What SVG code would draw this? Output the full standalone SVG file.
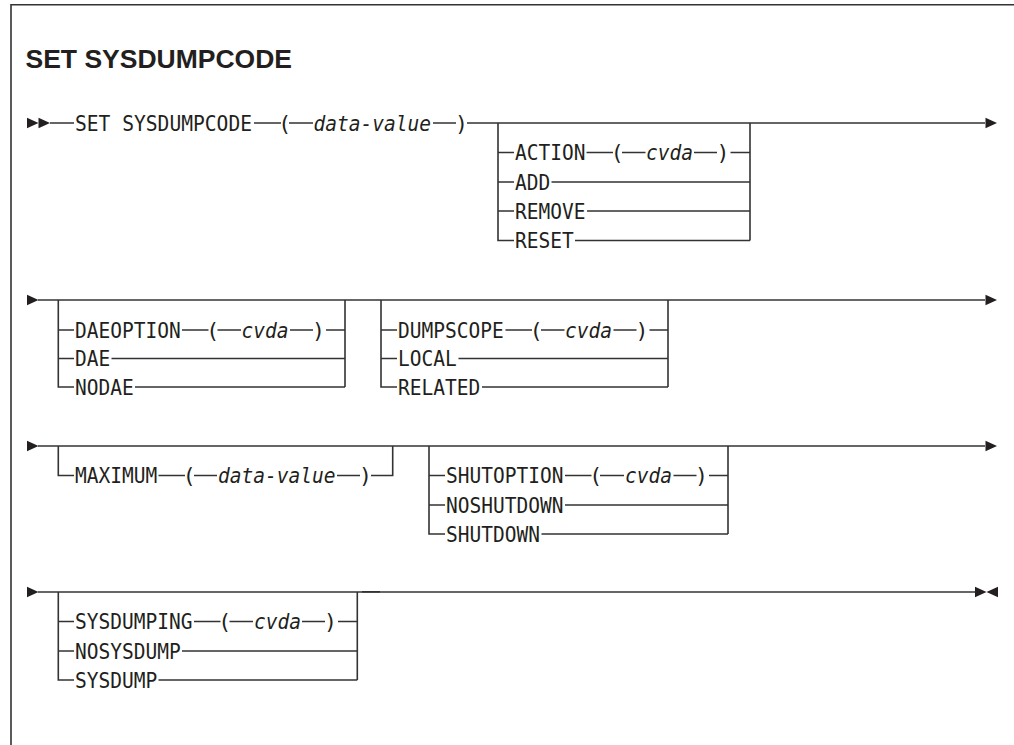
<svg xmlns="http://www.w3.org/2000/svg" xmlns:xlink="http://www.w3.org/1999/xlink" width="1014" height="745" viewBox="0 0 1014 745">
<style>
.t{font-family:"DejaVu Sans Mono","Liberation Mono",monospace;font-size:21.5px;fill:#231f20}
.i{font-style:italic}
.p{text-anchor:middle}
.ln{fill:none;stroke:#333;stroke-width:1.6}
.title{font-family:"Liberation Sans",Arial,sans-serif;font-weight:bold;font-size:26.5px;fill:#231f20}
.tri{fill:#231f20}
</style>
<defs>
<path id="tr" d="M0,-5.2 L11.5,0 L0,5.2 Z"/>
<path id="tl" d="M11.5,-5.2 L0,0 L11.5,5.2 Z"/>
</defs>
<rect width="1014" height="745" fill="#fff"/>
<g id="frame"><path class="ln" d="M11,745 V4.7 H1014" stroke="#555"/></g>
<g id="title"><text class="title" x="25.5" y="68.3">SET SYSDUMPCODE</text></g>

<g id="connectors">
<path class="ln" d="M50,123 H74 M254,123 H281 M289,123 H313 M433,123 H456 M467,123 H985"/>
<path class="ln" d="M498,123 V240.5 H514 M498,152.5 H514 M498,182 H514 M498,211 H514 M586.5,152.5 H613 M622,152.5 H645.5 M694,152.5 H717 M730.5,152.5 H750 M551.5,182 H750 M587,211 H750 M575,240.5 H750 M750,123 V240.5"/>
<path class="ln" d="M38,300 H985"/>
<path class="ln" d="M58.3,300 V387 H74 M58.3,330 H74 M58.3,358.5 H74 M182,330 H208.5 M217.5,330 H241 M290,330 H313 M326,330 H345 M111.5,358.5 H345 M135,387 H345 M345,300 V387"/>
<path class="ln" d="M381,300 V387 H397 M381,330 H397 M381,358.5 H397 M505.5,330 H532 M541,330 H564.5 M613.5,330 H636.5 M649.5,330 H668 M458.5,358.5 H668 M482,387 H668 M668,300 V387"/>
<path class="ln" d="M38,446 H985"/>
<path class="ln" d="M58.3,446 V475.5 H74 M158.5,475.5 H185 M194,475.5 H217 M337,475.5 H360 M371,475.5 H392.7 V446"/>
<path class="ln" d="M429,446 V534 H445 M429,475.5 H445 M429,505 H445 M565,475.5 H591.5 M600,475.5 H624 M673.5,475.5 H696.5 M709,475.5 H728 M565,505 H728 M541.5,534 H728 M728,446 V534"/>
<path class="ln" d="M38,592 H975"/>
<path class="ln" d="M58.3,592 V680 H74 M58.3,621.5 H74 M58.3,651 H74 M194,621.5 H220.5 M229.5,621.5 H253 M302,621.5 H325 M338,621.5 H357.3 M182,651 H357.3 M158.5,680 H357.3 M357.3,592 V680"/>
<path class="ln" d="M362,591.8 H380" stroke-width="2.6"/>
</g>

<g id="terminators" class="tri">
<use xlink:href="#tr" href="#tr" x="27" y="123"/>
<use xlink:href="#tr" href="#tr" x="38.5" y="123"/>
<use xlink:href="#tr" href="#tr" x="985.5" y="123"/>
<use xlink:href="#tr" href="#tr" x="27" y="300"/>
<use xlink:href="#tr" href="#tr" x="985.5" y="300"/>
<use xlink:href="#tr" href="#tr" x="27" y="446"/>
<use xlink:href="#tr" href="#tr" x="985.5" y="446"/>
<use xlink:href="#tr" href="#tr" x="27" y="592"/>
<use xlink:href="#tr" href="#tr" x="975" y="592"/>
<use xlink:href="#tl" href="#tl" x="986.5" y="592"/>
</g>

<g id="n-set">
<text class="t" x="75" y="130.8" textLength="177" lengthAdjust="spacingAndGlyphs">SET SYSDUMPCODE</text>
<text class="t p" x="284.7" y="130.8">(</text>
<text class="t i" x="313.5" y="130.8" textLength="117.5" lengthAdjust="spacingAndGlyphs">data-value</text>
<text class="t p" x="461.5" y="130.8">)</text>
</g>

<g id="n-action">
<text class="t" x="515" y="160.3" textLength="70.5" lengthAdjust="spacingAndGlyphs">ACTION</text>
<text class="t p" x="617.2" y="160.3">(</text>
<text class="t i" x="646" y="160.3" textLength="47" lengthAdjust="spacingAndGlyphs">cvda</text>
<text class="t p" x="723" y="160.3">)</text>
</g>
<g id="n-add"><text class="t" x="515" y="189.8" textLength="35.25" lengthAdjust="spacingAndGlyphs">ADD</text></g>
<g id="n-remove"><text class="t" x="515" y="218.8" textLength="70.5" lengthAdjust="spacingAndGlyphs">REMOVE</text></g>
<g id="n-reset"><text class="t" x="515" y="248.3" textLength="58.75" lengthAdjust="spacingAndGlyphs">RESET</text></g>

<g id="n-daeoption">
<text class="t" x="75" y="337.8" textLength="105.75" lengthAdjust="spacingAndGlyphs">DAEOPTION</text>
<text class="t p" x="212.7" y="337.8">(</text>
<text class="t i" x="241.5" y="337.8" textLength="47" lengthAdjust="spacingAndGlyphs">cvda</text>
<text class="t p" x="318.5" y="337.8">)</text>
</g>
<g id="n-dae"><text class="t" x="75" y="366.3" textLength="35.25" lengthAdjust="spacingAndGlyphs">DAE</text></g>
<g id="n-nodae"><text class="t" x="75" y="394.8" textLength="58.75" lengthAdjust="spacingAndGlyphs">NODAE</text></g>

<g id="n-dumpscope">
<text class="t" x="398" y="337.8" textLength="105.75" lengthAdjust="spacingAndGlyphs">DUMPSCOPE</text>
<text class="t p" x="536.2" y="337.8">(</text>
<text class="t i" x="565" y="337.8" textLength="47" lengthAdjust="spacingAndGlyphs">cvda</text>
<text class="t p" x="642" y="337.8">)</text>
</g>
<g id="n-local"><text class="t" x="398" y="366.3" textLength="58.75" lengthAdjust="spacingAndGlyphs">LOCAL</text></g>
<g id="n-related"><text class="t" x="398" y="394.8" textLength="82.25" lengthAdjust="spacingAndGlyphs">RELATED</text></g>

<g id="n-maximum">
<text class="t" x="75" y="483.3" textLength="82.25" lengthAdjust="spacingAndGlyphs">MAXIMUM</text>
<text class="t p" x="189.2" y="483.3">(</text>
<text class="t i" x="218" y="483.3" textLength="117.5" lengthAdjust="spacingAndGlyphs">data-value</text>
<text class="t p" x="365.5" y="483.3">)</text>
</g>

<g id="n-shutoption">
<text class="t" x="446" y="483.3" textLength="117.5" lengthAdjust="spacingAndGlyphs">SHUTOPTION</text>
<text class="t p" x="595.7" y="483.3">(</text>
<text class="t i" x="625" y="483.3" textLength="47" lengthAdjust="spacingAndGlyphs">cvda</text>
<text class="t p" x="701.5" y="483.3">)</text>
</g>
<g id="n-noshutdown"><text class="t" x="446" y="512.8" textLength="117.5" lengthAdjust="spacingAndGlyphs">NOSHUTDOWN</text></g>
<g id="n-shutdown"><text class="t" x="446" y="541.8" textLength="94" lengthAdjust="spacingAndGlyphs">SHUTDOWN</text></g>

<g id="n-sysdumping">
<text class="t" x="75" y="629.3" textLength="117.5" lengthAdjust="spacingAndGlyphs">SYSDUMPING</text>
<text class="t p" x="224.7" y="629.3">(</text>
<text class="t i" x="254" y="629.3" textLength="47" lengthAdjust="spacingAndGlyphs">cvda</text>
<text class="t p" x="330.5" y="629.3">)</text>
</g>
<g id="n-nosysdump"><text class="t" x="75" y="658.8" textLength="105.75" lengthAdjust="spacingAndGlyphs">NOSYSDUMP</text></g>
<g id="n-sysdump"><text class="t" x="75" y="687.8" textLength="82.25" lengthAdjust="spacingAndGlyphs">SYSDUMP</text></g>
</svg>
